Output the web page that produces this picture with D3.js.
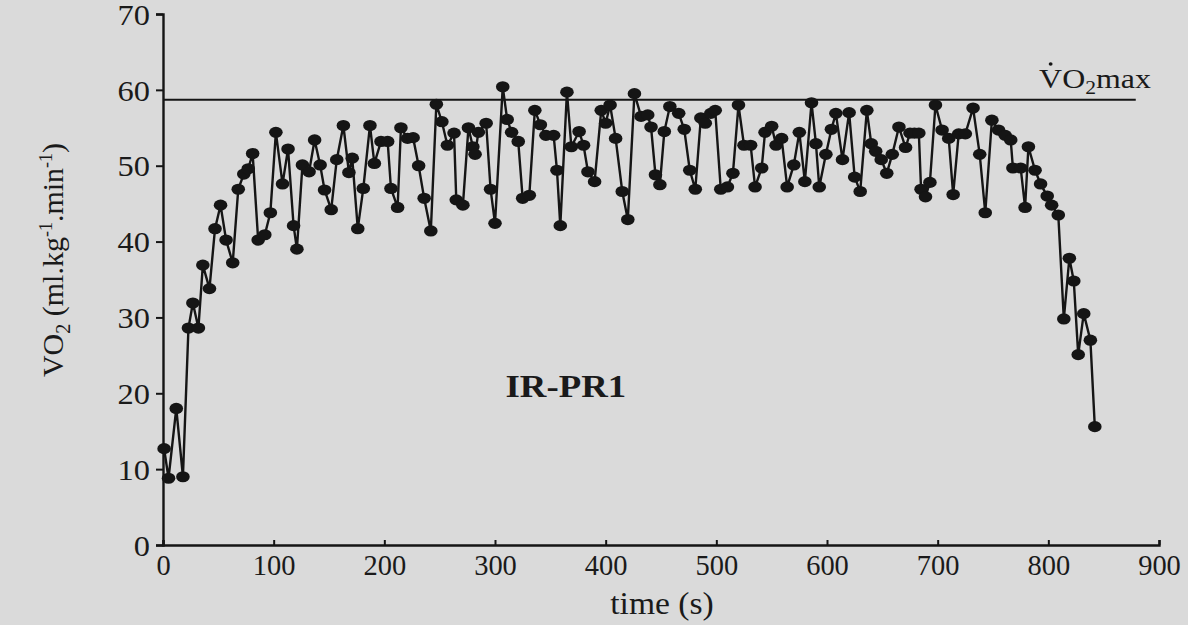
<!DOCTYPE html>
<html><head><meta charset="utf-8">
<script src="https://cdn.jsdelivr.net/npm/d3@7"></script>
<style>
html,body{margin:0;padding:0;background:#dadada;}
svg{display:block;background:#dadada;}
text{font-family:"Liberation Serif","DejaVu Serif",serif;fill:#1a1a1a;}
</style></head><body>
<svg id="c" width="1188" height="625"></svg>
<script>
// time (s)
const times = [1,5,12,18,23,27,32,36,42,47,52,57,63,68,73,77,81,86,92,97,102,108,113,118,121,126,132,137,142,146,
152,157,163,168,171,176,181,187,191,197,203,206,212,215,221,226,231,236,242,247,252,257,263,265,271,276,280,282,285,292,
296,300,307,311,315,321,325,331,336,341,346,353,356,359,365,369,376,380,384,390,396,400,404,409,415,420,426,432,438,441,
445,449,453,458,466,471,476,481,486,490,495,499,504,510,515,520,525,531,535,541,544,550,554,559,564,570,575,580,586,590,
593,599,604,608,614,620,625,630,636,640,644,649,654,659,665,671,675,679,683,685,689,693,698,704,710,714,719,725,732,738,
743,749,755,761,766,768,775,779,782,788,793,799,803,809,814,819,823,827,832,838,842];
// VO2 (ml.kg-1.min-1)
const vo2 = [12.7,8.8,18.0,9.0,28.6,31.9,28.6,36.9,33.8,41.7,44.8,40.2,37.2,46.9,48.9,49.6,51.6,40.2,40.9,43.8,54.4,47.6,52.2,42.1,39.0,50.1,49.2,53.4,50.1,46.8,
44.2,50.8,55.3,49.1,51.0,41.7,47.0,55.3,50.3,53.2,53.2,47.0,44.5,55.0,53.6,53.7,50.0,45.7,41.4,58.1,55.8,52.7,54.3,45.5,44.8,55.0,52.5,51.5,54.4,55.6,
46.9,42.4,60.4,56.1,54.4,53.2,45.7,46.1,57.3,55.4,54.0,54.0,49.4,42.1,59.7,52.5,54.5,52.7,49.2,47.9,57.3,55.6,58.0,53.6,46.6,42.9,59.5,56.5,56.7,55.1,
48.8,47.5,54.5,57.8,56.9,54.8,49.4,46.9,56.3,55.6,56.9,57.3,46.9,47.2,49.0,58.0,52.7,52.7,47.2,49.7,54.4,55.2,52.7,53.6,47.2,50.1,54.4,47.9,58.3,52.9,
47.2,51.5,54.8,56.9,50.8,57.0,48.5,46.6,57.3,52.9,51.9,50.8,49.0,51.5,55.1,52.4,54.3,54.3,54.3,46.9,45.9,47.8,58.0,54.7,53.6,46.2,54.2,54.2,57.6,51.5,
43.8,56.0,54.7,54.0,53.4,49.7,49.7,44.5,52.5,49.4,47.6,46.0,44.8,43.5,29.8,37.8,34.8,25.1,30.5,27.0,15.6];
const xTicks = [0,100,200,300,400,500,600,700,800,900];
const yTicks = [0,10,20,30,40,50,60,70];
const vo2max = 58.7;
const vo2maxEnd = 879;

const svg = d3.select("#c");
const x = d3.scaleLinear().domain([0,900]).range([163,1159]);
const y = d3.scaleLinear().domain([0,70]).range([545,14]);
const ink = "#151515";
const SX = 1.12; // horizontal stretch of the original lettering

// axes
const gx = svg.append("g").attr("transform","translate(0,"+y(0)+")")
  .call(d3.axisBottom(x).tickValues(xTicks).tickSize(-5).tickPadding(11).tickFormat(d3.format("d")));
const gy = svg.append("g").attr("transform","translate("+x(0)+",0)")
  .call(d3.axisLeft(y).tickValues(yTicks).tickSize(7).tickPadding(6).tickFormat(d3.format("d")));
[gx,gy].forEach(g=>{
  g.select(".domain").attr("stroke",ink).attr("stroke-width",2.4);
  g.selectAll(".tick line").attr("stroke",ink).attr("stroke-width",2);
  g.selectAll(".tick text").attr("font-size",29).attr("fill","#1a1a1a")
   .attr("font-family","'Liberation Serif',serif");
});
gx.selectAll(".tick text").attr("dy","0.62em").attr("font-size",30).attr("transform","scale(0.95,1)");
gy.selectAll(".tick text").attr("dy","0.35em").attr("x",0)
  .attr("transform","translate(-13,0) scale("+SX+",1)");

// VO2max line
svg.append("line").attr("x1",x(0)).attr("x2",x(vo2maxEnd))
  .attr("y1",y(vo2max)).attr("y2",y(vo2max)).attr("stroke",ink).attr("stroke-width",2);

// data line
const pts = times.map((t,i)=>[t,vo2[i]]);
svg.append("path").datum(pts)
  .attr("fill","none").attr("stroke",ink).attr("stroke-width",2.4)
  .attr("d",d3.line().x(d=>x(d[0])).y(d=>y(d[1])));
svg.append("g").selectAll("ellipse").data(pts).join("ellipse")
  .attr("cx",d=>x(d[0])).attr("cy",d=>y(d[1])).attr("rx",6.8).attr("ry",5.6).attr("fill",ink);

// labels
svg.append("text").attr("transform","translate("+(x(450)+1)+",614) scale(1.05,1)")
  .attr("text-anchor","middle").attr("font-size",32).text("time (s)");

const yl = svg.append("text").attr("transform","translate(63,260) rotate(-90)")
  .attr("text-anchor","middle").attr("font-size",30);
yl.append("tspan").text("VO");
yl.append("tspan").attr("font-size",20).attr("dy",7).text("2");
yl.append("tspan").attr("dy",-7).text(" (ml.kg");
yl.append("tspan").attr("font-size",18).attr("dy",-11).text("-1");
yl.append("tspan").attr("dy",11).text(".min");
yl.append("tspan").attr("font-size",18).attr("dy",-11).text("-1");
yl.append("tspan").attr("dy",11).text(")");

svg.append("text").attr("transform","translate("+x(364)+","+y(21)+") scale(1.15,1)")
  .attr("dy","0.35em").attr("text-anchor","middle")
  .attr("font-size",32).attr("font-weight","bold").text("IR-PR1");

const vg = svg.append("g").attr("transform","translate(1151,88) scale(1.14,1)");
const vm = vg.append("text").attr("x",0).attr("y",0).attr("text-anchor","end").attr("font-size",28);
vm.append("tspan").text("VO");
vm.append("tspan").attr("font-size",19).attr("dy",6).text("2");
vm.append("tspan").attr("dy",-6).text("max");
const n = vm.node();
const s0 = n.getStartPositionOfChar(0).x, e0 = n.getEndPositionOfChar(0).x;
vg.append("circle").attr("cx",(s0+e0)/2).attr("cy",-24).attr("r",1.7).attr("fill",ink);
</script>
</body></html>
